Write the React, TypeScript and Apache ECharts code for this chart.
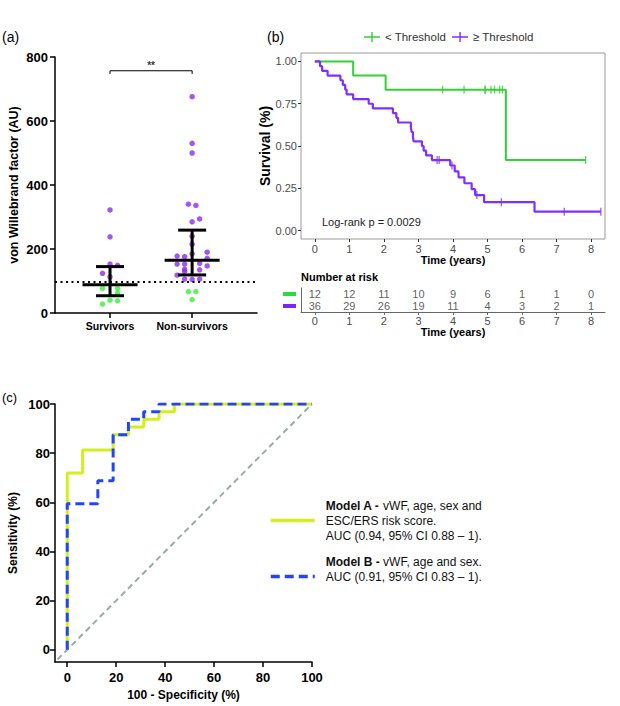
import React, { useEffect, useRef } from 'react';
import * as echarts from 'echarts';

const FONT = '"Liberation Sans", Arial, Helvetica, sans-serif';

// ---------- Panel (a): vWF dot plot ----------
const groups = ['Survivors', 'Non-survivors'];
const survivorsVWF = [322, 238, 153, 149, 124, 113, 77, 77, 63, 40, 38, 28];
const survivorsSlot = [0, 0, 0, 1, -1, 0, -1, 1, 1, 0, 1, -1];
const nonSurvivorsVWF = [676, 530, 500, 340, 336, 294, 285, 240, 215, 185, 190, 178, 176, 171, 155, 153, 153, 147, 137, 135, 130, 118, 106, 105, 106, 67, 67, 42];
const nonSurvivorsSlot = [0, 0, 0, -0.5, 0.5, 1, 0, 0, 0, 0, 2, -2, -1, 2, 1, -2, -1, 2, -1, 1, -1, -2, -1, 0, 1, -0.5, 0.5, 0];
const iqrLow = [54, 119];
const medians = [88, 165];
const iqrHigh = [145, 259];
const vwfThreshold = 97;
const bracketX = [1, 1, 2, 2];
const bracketY = [747, 757, 757, 747];
const sigLabel = '**';

// ---------- Panel (b): Kaplan-Meier ----------
const kmGroups = ['< Threshold', '≥ Threshold'];
const greenEvents = [1.11, 2.05, 5.53];
const greenCensored = [3.7, 4.32, 4.93, 4.93, 5.1, 5.2, 5.35, 5.43, 7.84];
const purpleEvents = [0.15, 0.21, 0.37, 0.74, 0.81, 0.88, 0.92, 1.11, 1.56, 1.68, 2.26, 2.36, 2.41, 2.78, 2.8, 2.84, 2.86, 3.1, 3.15, 3.22, 3.39, 3.92, 4.05, 4.16, 4.33, 4.54, 4.64, 4.9, 6.36];
const purpleCensored = [3.54, 3.6, 3.97, 4.69, 5.4, 7.22, 8.28];
const years = [0, 1, 2, 3, 4, 5, 6, 7, 8];
const survTicks = [0, 0.25, 0.5, 0.75, 1];
const riskGreen = [12, 12, 11, 10, 9, 6, 1, 1, 0];
const riskPurple = [36, 29, 26, 19, 11, 4, 3, 2, 1];
const logRankText = 'Log-rank p = 0.0029';

// ---------- Panel (c): ROC ----------
const rocTicks = [0, 20, 40, 60, 80, 100];
const modelAFpr = [0, 0, 6.25, 6.25, 18.75, 18.75, 25, 25, 31.25, 31.25, 37.5, 37.5, 43.75, 43.75, 100];
const modelATpr = [0, 71.875, 71.875, 81.25, 81.25, 87.5, 87.5, 90.625, 90.625, 93.75, 93.75, 96.875, 96.875, 100, 100];
const modelBFpr = [0, 0, 12.5, 12.5, 18.75, 18.75, 25, 25, 31.25, 31.25, 37.5, 37.5, 100];
const modelBTpr = [0, 59.375, 59.375, 68.75, 68.75, 87.5, 87.5, 93.75, 93.75, 96.875, 96.875, 100, 100];
const diagX = [-4, 100];
const diagY = [-4, 100];

const PURPLE_A = '#8b2cf0';
const GREEN_A = '#3ded3d';
const KM_GREEN = '#33d133';
const KM_PURPLE = '#7f2fff';
const YELLOW = '#d4f01c';
const BLUE = '#2344ff';

function km(events: number[], censored: number[]) {
  const all = [
    ...events.map((t) => ({ t, e: 1 })),
    ...censored.map((t) => ({ t, e: 0 })),
  ].sort((a, b) => a.t - b.t || b.e - a.e);
  let n = all.length;
  let s = 1;
  const line: number[][] = [[0, 1]];
  const cens: number[][] = [];
  for (const r of all) {
    if (r.e) {
      line.push([r.t, s]);
      s = (s * (n - 1)) / n;
      line.push([r.t, s]);
    } else {
      cens.push([r.t, s]);
    }
    n -= 1;
  }
  line.push([all[all.length - 1].t, s]);
  return { line, cens };
}

const zip = (a: number[], b: number[]) => a.map((v, i) => [v, b[i]]);
const SLOT = 0.0915;

const PLUS = 'path://M0,4.3H7.3V0H8.7V4.3H16V5.7H8.7V10H7.3V5.7H0Z';

export default function App() {
  const ref = useRef<HTMLDivElement>(null);
  useEffect(() => {
    if (!ref.current) return;
    const chart = echarts.init(ref.current, undefined, { renderer: 'svg' });

    const dots: { x: number; v: number }[] = [];
    survivorsVWF.forEach((v, i) => dots.push({ x: 1 + survivorsSlot[i] * SLOT, v }));
    nonSurvivorsVWF.forEach((v, i) => dots.push({ x: 2 + nonSurvivorsSlot[i] * SLOT, v }));
    const highDots = dots.filter((d) => d.v >= vwfThreshold).map((d) => [d.x, d.v]);
    const lowDots = dots.filter((d) => d.v < vwfThreshold).map((d) => [d.x, d.v]);

    const kmG = km(greenEvents, greenCensored);
    const kmP = km(purpleEvents, purpleCensored);

    const black = '#000';
    const axisBlack = { lineStyle: { color: black, width: 1.5 } };

    const option: any = {
      animation: false,
      textStyle: { fontFamily: FONT },
      grid: [
        { left: 55, top: 57, width: 202, height: 256 },
        { left: 301, top: 53, width: 304, height: 186, show: true, borderColor: '#9a9a9a', borderWidth: 1, backgroundColor: 'transparent' },
        { left: 301, top: 288, width: 304, height: 24 },
        { left: 55, top: 404, width: 257, height: 258 },
      ],
      xAxis: [
        {
          gridIndex: 0, type: 'value', min: 0.33, max: 2.79,
          axisLine: { show: true, onZero: false, ...axisBlack },
          axisTick: { show: true, customValues: [1, 2], length: 5, ...axisBlack },
          axisLabel: { customValues: [1, 2], formatter: (v: number) => groups[Math.round(v) - 1], color: black, fontWeight: 'bold', fontSize: 10.5, margin: 7 },
          splitLine: { show: false },
        },
        {
          gridIndex: 1, type: 'value', min: -0.4, max: 8.4,
          axisLine: { show: false, onZero: false },
          axisTick: { show: true, customValues: years, length: 3, lineStyle: { color: '#333', width: 1 } },
          axisLabel: { customValues: years, color: '#4d4d4d', fontSize: 11, margin: 4 },
          splitLine: { show: false },
          name: 'Time (years)', nameLocation: 'middle', nameGap: 15,
          nameTextStyle: { fontWeight: 'bold', fontSize: 11, color: black },
        },
        {
          gridIndex: 2, type: 'value', min: -0.4, max: 8.4,
          axisLine: { show: true, onZero: false, lineStyle: { color: '#666', width: 1 } },
          axisTick: { show: true, customValues: years, length: 3, lineStyle: { color: '#666', width: 1 } },
          axisLabel: { customValues: years, color: '#4d4d4d', fontSize: 11, margin: 3 },
          splitLine: { show: false },
          name: 'Time (years)', nameLocation: 'middle', nameGap: 10,
          nameTextStyle: { fontWeight: 'bold', fontSize: 11, color: black },
        },
        {
          gridIndex: 3, type: 'value', min: -5, max: 100,
          axisLine: { show: true, onZero: false, ...axisBlack },
          axisTick: { show: true, customValues: rocTicks, length: 5, ...axisBlack },
          axisLabel: { customValues: rocTicks, color: black, fontWeight: 'bold', fontSize: 13, margin: 9 },
          splitLine: { show: false },
          name: '100 - Specificity (%)', nameLocation: 'middle', nameGap: 27,
          nameTextStyle: { fontWeight: 'bold', fontSize: 12, color: black },
        },
      ],
      yAxis: [
        {
          gridIndex: 0, type: 'value', min: 0, max: 800, interval: 200,
          axisLine: { show: true, onZero: false, ...axisBlack },
          axisTick: { show: true, length: 5, ...axisBlack },
          axisLabel: { color: black, fontWeight: 'bold', fontSize: 13, margin: 7 },
          splitLine: { show: false },
          name: 'von Willebrand factor (AU)', nameLocation: 'middle', nameGap: 35,
          nameTextStyle: { fontWeight: 'bold', fontSize: 12.5, color: black },
        },
        {
          gridIndex: 1, type: 'value', min: -0.05, max: 1.05,
          axisLine: { show: false, onZero: false },
          axisTick: { show: true, customValues: survTicks, length: 3, lineStyle: { color: '#333', width: 1 } },
          axisLabel: { customValues: survTicks, formatter: (v: number) => v.toFixed(2), color: '#4d4d4d', fontSize: 11, margin: 4 },
          splitLine: { show: false },
          name: 'Survival (%)', nameLocation: 'middle', nameGap: 27,
          nameTextStyle: { fontWeight: 'bold', fontSize: 14, color: black },
        },
        {
          gridIndex: 2, type: 'category', data: ['g', 'p'], inverse: true,
          axisLine: { show: true, onZero: false, lineStyle: { color: '#666', width: 1 } },
          axisTick: { show: false },
          axisLabel: {
            margin: 5, interval: 0, hideOverlap: false,
            formatter: (v: string) => (v === 'g' ? '{g| }' : '{p| }'),
            rich: {
              g: { backgroundColor: '#2bdc3a', width: 13, height: 4, fontSize: 2, lineHeight: 4 },
              p: { backgroundColor: '#7a25ff', width: 13, height: 4, fontSize: 2, lineHeight: 4 },
            },
          },
          splitLine: { show: false },
        },
        {
          gridIndex: 3, type: 'value', min: -5, max: 100,
          axisLine: { show: true, onZero: false, ...axisBlack },
          axisTick: { show: true, customValues: rocTicks, length: 5, ...axisBlack },
          axisLabel: { customValues: rocTicks, color: black, fontWeight: 'bold', fontSize: 13, margin: 5 },
          splitLine: { show: false },
          name: 'Sensitivity (%)', nameLocation: 'middle', nameGap: 36,
          nameTextStyle: { fontWeight: 'bold', fontSize: 12, color: black },
        },
      ],
      legend: [
        {
          data: kmGroups.map((name) => ({ name, icon: PLUS })),
          left: 364, top: 31, itemWidth: 16, itemHeight: 10, itemGap: 6, padding: 0,
          selectedMode: false,
          textStyle: { fontSize: 11.5, color: '#333', fontFamily: FONT },
        },
        {
          data: ['Model A', 'Model B'],
          orient: 'vertical', left: 269, top: 498, itemWidth: 44, itemHeight: 14, itemGap: 11, padding: 0,
          selectedMode: false,
          itemStyle: { opacity: 0 },
          lineStyle: { width: 3.5, opacity: 1 },
          formatter: (name: string) =>
            name === 'Model A'
              ? '{s| }{b|Model A -} vWF, age, sex and\n{s| }ESC/ERS risk score.\n{s| }AUC (0.94, 95% CI 0.88 – 1).'
              : '{s| }{b|Model B -} vWF, age and sex.\n{s| }AUC (0.91, 95% CI 0.83 – 1).\n ',
          textStyle: {
            fontSize: 12, color: '#111', lineHeight: 15, fontFamily: FONT,
            rich: {
              b: { fontWeight: 'bold', fontSize: 12, lineHeight: 15, color: '#111', fontFamily: FONT },
              s: { width: 6, fontSize: 12, lineHeight: 15 },
            },
          },
        },
      ],
      graphic: [
        { type: 'text', x: 2, y: 37, style: { text: '(a)', font: `14px ${FONT}`, fill: black, verticalAlign: 'middle' } },
        { type: 'text', x: 267, y: 37, style: { text: '(b)', font: `14px ${FONT}`, fill: black, verticalAlign: 'middle' } },
        { type: 'text', x: 2, y: 397, style: { text: '(c)', font: `13px ${FONT}`, fill: black, verticalAlign: 'middle' } },
        { type: 'text', x: 301, y: 277, style: { text: 'Number at risk', font: `bold 11px ${FONT}`, fill: black, verticalAlign: 'middle' } },
        { type: 'text', x: 322, y: 222, style: { text: logRankText, font: `11px ${FONT}`, fill: '#222', verticalAlign: 'middle' } },
      ],
      series: [
        // ----- panel (a)
        {
          type: 'scatter', name: 'vWF high', xAxisIndex: 0, yAxisIndex: 0,
          data: highDots, symbolSize: 5.5, itemStyle: { color: PURPLE_A },
          markLine: {
            silent: true, symbol: 'none', label: { show: false },
            lineStyle: { color: black, width: 2, type: [2, 3.5] },
            data: [{ yAxis: vwfThreshold }],
          },
        },
        {
          type: 'scatter', name: 'vWF low', xAxisIndex: 0, yAxisIndex: 0,
          data: lowDots, symbolSize: 5.5, itemStyle: { color: GREEN_A },
        },
        {
          type: 'custom', name: 'median IQR', xAxisIndex: 0, yAxisIndex: 0, z: 5,
          data: medians.map((m, i) => [i + 1, iqrLow[i], m, iqrHigh[i]]),
          encode: { x: 0, y: [1, 2, 3] },
          renderItem: (params: any, api: any) => {
            const x = api.value(0);
            const lo = api.coord([x, api.value(1)]);
            const md = api.coord([x, api.value(2)]);
            const hi = api.coord([x, api.value(3)]);
            const st = { stroke: black, lineWidth: 3 };
            const cap = 14;
            const mw = 27.5;
            return {
              type: 'group',
              children: [
                { type: 'line', shape: { x1: lo[0], y1: lo[1], x2: hi[0], y2: hi[1] }, style: st },
                { type: 'line', shape: { x1: lo[0] - cap, y1: lo[1], x2: lo[0] + cap, y2: lo[1] }, style: st },
                { type: 'line', shape: { x1: hi[0] - cap, y1: hi[1], x2: hi[0] + cap, y2: hi[1] }, style: st },
                { type: 'line', shape: { x1: md[0] - mw, y1: md[1], x2: md[0] + mw, y2: md[1] }, style: st },
              ],
            };
          },
        },
        {
          type: 'line', name: 'bracket', xAxisIndex: 0, yAxisIndex: 0,
          data: zip(bracketX, bracketY), symbol: 'none', silent: true,
          lineStyle: { color: black, width: 1 },
        },
        {
          type: 'scatter', name: 'sig', xAxisIndex: 0, yAxisIndex: 0,
          data: [[1.5, 772]], symbolSize: 1, itemStyle: { color: 'transparent' }, silent: true,
          label: { show: true, position: 'inside', formatter: sigLabel, color: black, fontWeight: 'bold', fontSize: 10 },
        },
        // ----- panel (b)
        {
          type: 'line', name: kmGroups[0], xAxisIndex: 1, yAxisIndex: 1,
          data: kmG.line, symbol: 'none', itemStyle: { color: KM_GREEN },
          lineStyle: { color: KM_GREEN, width: 2 },
        },
        {
          type: 'line', name: kmGroups[1], xAxisIndex: 1, yAxisIndex: 1,
          data: kmP.line, symbol: 'none', itemStyle: { color: KM_PURPLE },
          lineStyle: { color: KM_PURPLE, width: 2.2 },
        },
        {
          type: 'scatter', name: 'cens green', xAxisIndex: 1, yAxisIndex: 1,
          data: kmG.cens, symbol: 'rect', symbolSize: [1.3, 8], itemStyle: { color: KM_GREEN },
        },
        {
          type: 'scatter', name: 'cens purple', xAxisIndex: 1, yAxisIndex: 1,
          data: kmP.cens, symbol: 'rect', symbolSize: [1.3, 8], itemStyle: { color: KM_PURPLE },
        },
        {
          type: 'scatter', name: 'risk green', xAxisIndex: 2, yAxisIndex: 2,
          data: years.map((t, i) => [t, 0, riskGreen[i]]), symbolSize: 1,
          itemStyle: { color: 'transparent' },
          label: { show: true, position: 'inside', formatter: (p: any) => String(p.value[2]), color: '#333', fontSize: 11 },
        },
        {
          type: 'scatter', name: 'risk purple', xAxisIndex: 2, yAxisIndex: 2,
          data: years.map((t, i) => [t, 1, riskPurple[i]]), symbolSize: 1,
          itemStyle: { color: 'transparent' },
          label: { show: true, position: 'inside', formatter: (p: any) => String(p.value[2]), color: '#333', fontSize: 11 },
        },
        // ----- panel (c)
        {
          type: 'line', name: 'reference', xAxisIndex: 3, yAxisIndex: 3,
          data: zip(diagX, diagY), symbol: 'none', silent: true,
          lineStyle: { color: '#9aabab', width: 2, type: [6, 4] },
        },
        {
          type: 'line', name: 'Model A', xAxisIndex: 3, yAxisIndex: 3,
          data: zip(modelAFpr, modelATpr), symbol: 'none', itemStyle: { color: YELLOW },
          lineStyle: { color: YELLOW, width: 3 },
        },
        {
          type: 'line', name: 'Model B', xAxisIndex: 3, yAxisIndex: 3,
          data: zip(modelBFpr, modelBTpr), symbol: 'none', itemStyle: { color: BLUE },
          lineStyle: { color: BLUE, width: 3, type: [9, 5] },
        },
      ],
    };

    chart.setOption(option);
    return () => chart.dispose();
  }, []);

  return <div ref={ref} style={{ position: 'absolute', left: 0, top: 0, width: 620, height: 706 }} />;
}
